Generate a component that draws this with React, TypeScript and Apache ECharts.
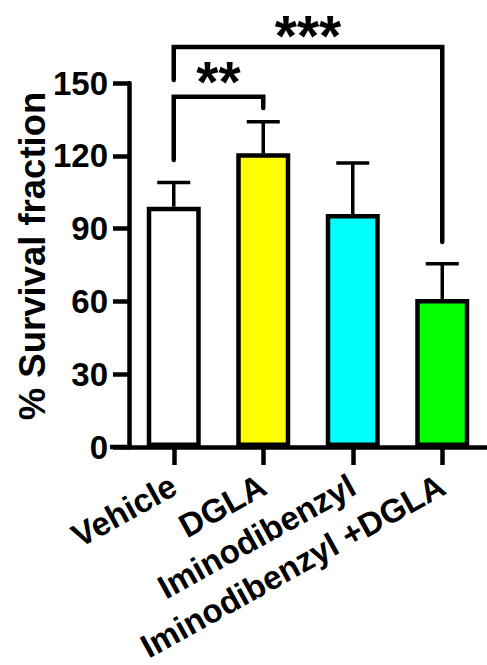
import React, { useEffect, useRef } from "react";
import * as echarts from "echarts";

const categories = ["Vehicle", "DGLA", "Iminodibenzyl", "Iminodibenzyl +DGLA"];
const means = [99, 121, 96, 61];
const upperErrors = [109, 134, 117, 75.5];
const barColors = ["#ffffff", "#ffff00", "#00ffff", "#00ff00"];

const yMin = 0;
const yMax = 150;
const yInterval = 30;
const yTitle = "% Survival fraction";

const bracketFrom = [0, 0];
const bracketTo = [1, 3];
const bracketTop = [144.3, 164.8];
const bracketLeftEnd = [118.3, 151.2];
const bracketRightEnd = [139.7, 84.5];
const bracketLabels = ["**", "***"];
const bracketLabelY = [155.4, 174.7];

const FONT = "'Liberation Sans', Arial, Helvetica, sans-serif";

export default function App() {
  const ref = useRef<HTMLDivElement>(null);
  useEffect(() => {
    if (!ref.current) return;
    const chart = echarts.init(ref.current, null, { renderer: "svg" });
    const option: any = {
      animation: false,
      backgroundColor: "#ffffff",
      grid: { left: 129, top: 83, width: 362, height: 364, containLabel: false },
      graphic: [
        {
          type: "line",
          shape: { x1: 110, y1: 447, x2: 130, y2: 447 },
          style: { stroke: "#000", lineWidth: 4.5 },
          z: 10,
        },
        {
          type: "text",
          x: 32,
          y: 256,
          rotation: Math.PI / 2,
          style: {
            text: yTitle,
            font: `bold 36.5px ${FONT}`,
            fill: "#000",
            textAlign: "center",
            textVerticalAlign: "middle",
          },
        },
      ],
      xAxis: {
        type: "category",
        data: categories,
        axisLine: { show: true, lineStyle: { color: "#000", width: 4.5 } },
        axisTick: { show: true, alignWithLabel: true, length: 18, lineStyle: { color: "#000", width: 4.5 } },
        axisLabel: {
          rotate: 29,
          margin: 36,
          color: "#000",
          fontSize: 33,
          fontWeight: "bold",
          fontFamily: FONT,
          interval: 0,
        },
        splitLine: { show: false },
      },
      yAxis: {
        type: "value",
        min: yMin,
        max: yMax,
        interval: yInterval,
        axisLine: { show: true, lineStyle: { color: "#000", width: 4.5 } },
        axisTick: { show: true, length: 16, lineStyle: { color: "#000", width: 4.5 } },
        axisLabel: { margin: 21, color: "#000", fontSize: 33, fontWeight: "bold", fontFamily: FONT },
        splitLine: { show: false },
      },
      series: [
        {
          type: "bar",
          barWidth: 54,
          data: means.map((v, i) => ({
            value: v,
            itemStyle: { color: barColors[i], borderColor: "#000", borderWidth: 4.5 },
          })),
          z: 2,
        },
        {
          type: "custom",
          z: 3,
          data: categories.map((_, i) => [i, means[i], upperErrors[i]]),
          renderItem: (params: any, api: any) => {
            const i = api.value(0);
            const base = api.coord([i, api.value(1)]);
            const top = api.coord([i, api.value(2)]);
            return {
              type: "group",
              children: [
                {
                  type: "line",
                  shape: { x1: top[0], y1: base[1], x2: top[0], y2: top[1] },
                  style: { stroke: "#000", lineWidth: 3.5 },
                },
                {
                  type: "line",
                  shape: { x1: top[0] - 16.5, y1: top[1], x2: top[0] + 16.5, y2: top[1] },
                  style: { stroke: "#000", lineWidth: 3.5 },
                },
              ],
            };
          },
        },
        {
          type: "custom",
          z: 4,
          clip: false,
          data: bracketFrom.map((f, k) => [f, bracketTop[k]]),
          renderItem: (params: any, api: any) => {
            const k = params.dataIndex;
            const pl = api.coord([bracketFrom[k], bracketLeftEnd[k]]);
            const pt = api.coord([bracketFrom[k], bracketTop[k]]);
            const pr = api.coord([bracketTo[k], bracketRightEnd[k]]);
            const pm = api.coord([0, bracketLabelY[k]]);
            const fs = 57;
            return {
              type: "group",
              children: [
                {
                  type: "polyline",
                  shape: {
                    points: [
                      [pl[0], pl[1]],
                      [pl[0], pt[1]],
                      [pr[0], pt[1]],
                      [pr[0], pr[1]],
                    ],
                  },
                  style: { stroke: "#000", lineWidth: 4.5, fill: null, lineCap: "round", lineJoin: "miter" },
                },
                {
                  type: "text",
                  x: (pl[0] + pr[0]) / 2,
                  y: pm[1] + fs * 0.22,
                  style: {
                    text: bracketLabels[k],
                    font: `bold ${fs}px ${FONT}`,
                    fill: "#000",
                    textAlign: "center",
                    textVerticalAlign: "middle",
                  },
                },
              ],
            };
          },
        },
      ],
    };
    chart.setOption(option);
    return () => chart.dispose();
  }, []);
  return (
    <div
      ref={ref}
      style={{ position: "fixed", left: 0, top: 0, width: 487, height: 665, background: "#fff" }}
    />
  );
}
